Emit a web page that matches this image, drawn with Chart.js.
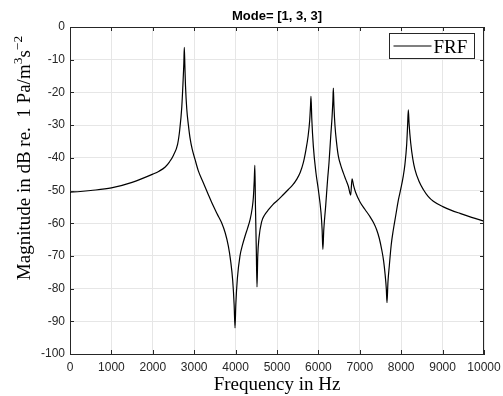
<!DOCTYPE html>
<html>
<head>
<meta charset="utf-8">
<script src="https://cdn.jsdelivr.net/npm/chart.js@4.4.0/dist/chart.umd.min.js"></script>
<style>
  html, body { margin: 0; padding: 0; background: #fff; }
  #wrap { width: 503px; height: 396px; }
</style>
</head>
<body>
<div id="wrap"><canvas id="grafico" width="503" height="396"></canvas></div>
<script>
// valores (Hz, dB)
const freqHz = [
  0, 250, 500, 1000, 1500, 2000, 2150, 2300, 2400, 2500, 2600, 2650, 2700, 2730, 2750, 2761,
  2775, 2790, 2820, 2860, 2900, 2950, 3020, 3100, 3220, 3350, 3460, 3560, 3660, 3750,
  3825, 3880, 3930, 3965, 3986, 4005, 4042, 4106, 4170, 4227, 4290, 4348, 4400, 4430,
  4450, 4465, 4480, 4500, 4517, 4535, 4565, 4630, 4700, 4800, 4900, 5032, 5150, 5274,
  5380, 5475, 5560, 5636, 5700, 5750, 5790, 5810, 5821, 5840, 5878, 5940, 5998, 6063,
  6090, 6108, 6130, 6176, 6220, 6256, 6300, 6330, 6350, 6361, 6375, 6401, 6440, 6482,
  6540, 6602, 6660, 6723, 6780, 6812, 6850, 6900, 7005, 7126, 7246, 7330, 7407, 7470,
  7528, 7575, 7610, 7640, 7657, 7680, 7713, 7760, 7810, 7870, 7930, 7990, 8051, 8090,
  8132, 8155, 8172, 8190, 8229, 8280, 8333, 8430, 8534, 8650, 8776, 9017, 9200, 9420,
  9700, 10000
];
const magDb = [
  -50.5, -50.3, -50.0, -49.2, -47.5, -45.0, -44.1, -42.8, -41.3, -39.2, -35.8, -31.5, -24.5, -17.0, -11.0, -6.2,
  -12.0, -18.0, -25.0, -30.0, -34.0, -37.3, -40.5, -44.0, -47.6, -51.5, -54.7, -57.3, -59.8, -63.0,
  -67.0, -71.5, -77.5, -85.0, -92.0, -85.0, -77.0, -70.0, -66.5, -64.0, -61.5, -59.0, -55.5, -52.0,
  -47.0, -42.3, -55.0, -68.0, -79.5, -70.0, -64.5, -59.5, -57.5, -55.8, -54.3, -52.8, -51.3, -49.7,
  -48.3, -46.6, -44.5, -41.5, -37.5, -33.5, -28.5, -24.0, -21.2, -28.0, -36.5, -44.5, -49.7, -56.8,
  -62.0, -68.0, -62.0, -54.7, -47.0, -41.5, -33.0, -27.5, -22.5, -18.7, -24.0, -30.3, -35.5, -39.5,
  -42.3, -44.6, -46.6, -48.7, -51.4, -46.4, -48.5, -50.6, -53.5, -55.8, -58.0, -59.8, -62.0, -64.6,
  -68.0, -71.5, -75.5, -80.0, -84.3, -78.0, -73.0, -66.5, -62.0, -57.5, -53.0, -49.5, -45.5, -42.0,
  -36.0, -30.0, -25.3, -29.5, -35.4, -40.3, -43.6, -47.2, -49.7, -51.8, -53.3, -55.0, -56.0, -57.0,
  -58.2, -59.4
];
const xTicks = [0, 1000, 2000, 3000, 4000, 5000, 6000, 7000, 8000, 9000, 10000];
const yTicks = [0, -10, -20, -30, -40, -50, -60, -70, -80, -90, -100];

const tituloGrafico = 'Mode= [1, 3, 3]';
const rotuloX = 'Frequency in Hz';
const rotuloLegenda = 'FRF';

const corEixo = '#262626';
const fonteSerif = '"Liberation Serif", "DejaVu Serif", serif';
const fonteSans = '"Liberation Sans", Arial, sans-serif';

// moldura estilo MATLAB: caixa, ticks para dentro, titulo, rotulo Y e legenda
const moldura = {
    id: 'moldura',
    afterDraw(chart) {
        const ctx = chart.ctx;
        const area = chart.chartArea;
        const sx = chart.scales.x;
        const sy = chart.scales.y;
        const tam = 4;

        ctx.save();
        ctx.strokeStyle = corEixo;
        ctx.lineWidth = 1;
        ctx.beginPath();
        ctx.moveTo(area.left, area.top + 0.5);
        ctx.lineTo(area.right, area.top + 0.5);
        ctx.moveTo(area.right - 0.5, area.top);
        ctx.lineTo(area.right - 0.5, area.bottom);
        xTicks.forEach(v => {
            const px = Math.round(sx.getPixelForValue(v)) + 0.5;
            ctx.moveTo(px, area.bottom);
            ctx.lineTo(px, area.bottom - tam);
            ctx.moveTo(px, area.top);
            ctx.lineTo(px, area.top + tam);
        });
        yTicks.forEach(v => {
            const py = Math.round(sy.getPixelForValue(v)) + 0.5;
            ctx.moveTo(area.left, py);
            ctx.lineTo(area.left + tam, py);
            ctx.moveTo(area.right, py);
            ctx.lineTo(area.right - tam, py);
        });
        ctx.stroke();

        // titulo
        ctx.fillStyle = '#000';
        ctx.font = 'bold 13px ' + fonteSans;
        ctx.textAlign = 'center';
        ctx.textBaseline = 'middle';
        ctx.fillText(tituloGrafico, (area.left + area.right) / 2, 16.5);

        // rotulo Y com sobrescritos
        const partes = [
            { t: 'Magnitude in dB re.  1 Pa/m', sup: false },
            { t: '3', sup: true },
            { t: 's', sup: false },
            { t: '\u2212', sup: true },
            { t: '2', sup: true }
        ];
        const fNormal = '19px ' + fonteSerif;
        const fSup = '13.5px ' + fonteSerif;
        let total = 0;
        partes.forEach(p => {
            ctx.font = p.sup ? fSup : fNormal;
            p.w = ctx.measureText(p.t).width;
            total += p.w;
        });
        ctx.translate(30, 158);
        ctx.rotate(-Math.PI / 2);
        ctx.textAlign = 'left';
        ctx.textBaseline = 'alphabetic';
        let pos = -total / 2;
        partes.forEach(p => {
            ctx.font = p.sup ? fSup : fNormal;
            ctx.fillText(p.t, pos, p.sup ? -8 : 0);
            pos += p.w;
        });
        ctx.restore();

        // legenda
        ctx.save();
        const bx = area.right - 94.5, by = area.top + 6.5, bw = 85, bh = 25;
        ctx.fillStyle = '#fff';
        ctx.fillRect(bx, by, bw, bh);
        ctx.strokeStyle = corEixo;
        ctx.lineWidth = 1;
        ctx.strokeRect(bx, by, bw, bh);
        ctx.strokeStyle = '#000';
        ctx.lineWidth = 1.2;
        ctx.beginPath();
        ctx.moveTo(bx + 4, by + 12.5);
        ctx.lineTo(bx + 42, by + 12.5);
        ctx.stroke();
        ctx.fillStyle = '#000';
        ctx.font = '19px ' + fonteSerif;
        ctx.textAlign = 'left';
        ctx.textBaseline = 'alphabetic';
        ctx.fillText(rotuloLegenda, bx + 44, by + 19);
        ctx.restore();
    }
};

const ctx = document.getElementById('grafico').getContext('2d');
window.meuGrafico = new Chart(ctx, {
    type: 'line',
    data: {
        datasets: [
            {
                label: rotuloLegenda,
                data: freqHz.map((f, i) => ({ x: f, y: magDb[i] })),
                borderColor: '#000',
                borderWidth: 1.2,
                pointRadius: 0,
                cubicInterpolationMode: 'monotone',
                fill: false
            }
        ]
    },
    options: {
        responsive: false,
        animation: false,
        devicePixelRatio: 1,
        layout: { padding: { top: 27, right: 19, left: 0, bottom: 0 } },
        plugins: {
            legend: { display: false },
            tooltip: { enabled: false }
        },
        scales: {
            x: {
                type: 'linear',
                min: 0,
                max: 10000,
                afterBuildTicks: s => { s.ticks = xTicks.map(v => ({ value: v })); },
                afterFit: s => { s.height = 42; s.paddingLeft = 0; s.paddingRight = 0; },
                grid: { color: '#e6e6e6', drawTicks: false },
                border: { color: corEixo, width: 1 },
                ticks: {
                    padding: 6,
                    color: corEixo,
                    font: { family: fonteSans, size: 12 },
                    maxRotation: 0,
                    autoSkip: false,
                    callback: v => String(v)
                },
                title: {
                    display: true,
                    text: rotuloX,
                    color: '#000',
                    font: { family: fonteSerif, size: 19 },
                    padding: { top: 0, bottom: 0 }
                }
            },
            y: {
                type: 'linear',
                min: -100,
                max: 0,
                afterBuildTicks: s => { s.ticks = yTicks.map(v => ({ value: v })); },
                afterFit: s => { s.width = 70; s.paddingTop = 0; s.paddingBottom = 0; },
                grid: { color: '#e6e6e6', drawTicks: false },
                border: { color: corEixo, width: 1 },
                ticks: {
                    padding: 5,
                    color: corEixo,
                    font: { family: fonteSans, size: 12 },
                    autoSkip: false,
                    callback: v => String(v)
                }
            }
        }
    },
    plugins: [moldura]
});
</script>
</body>
</html>
